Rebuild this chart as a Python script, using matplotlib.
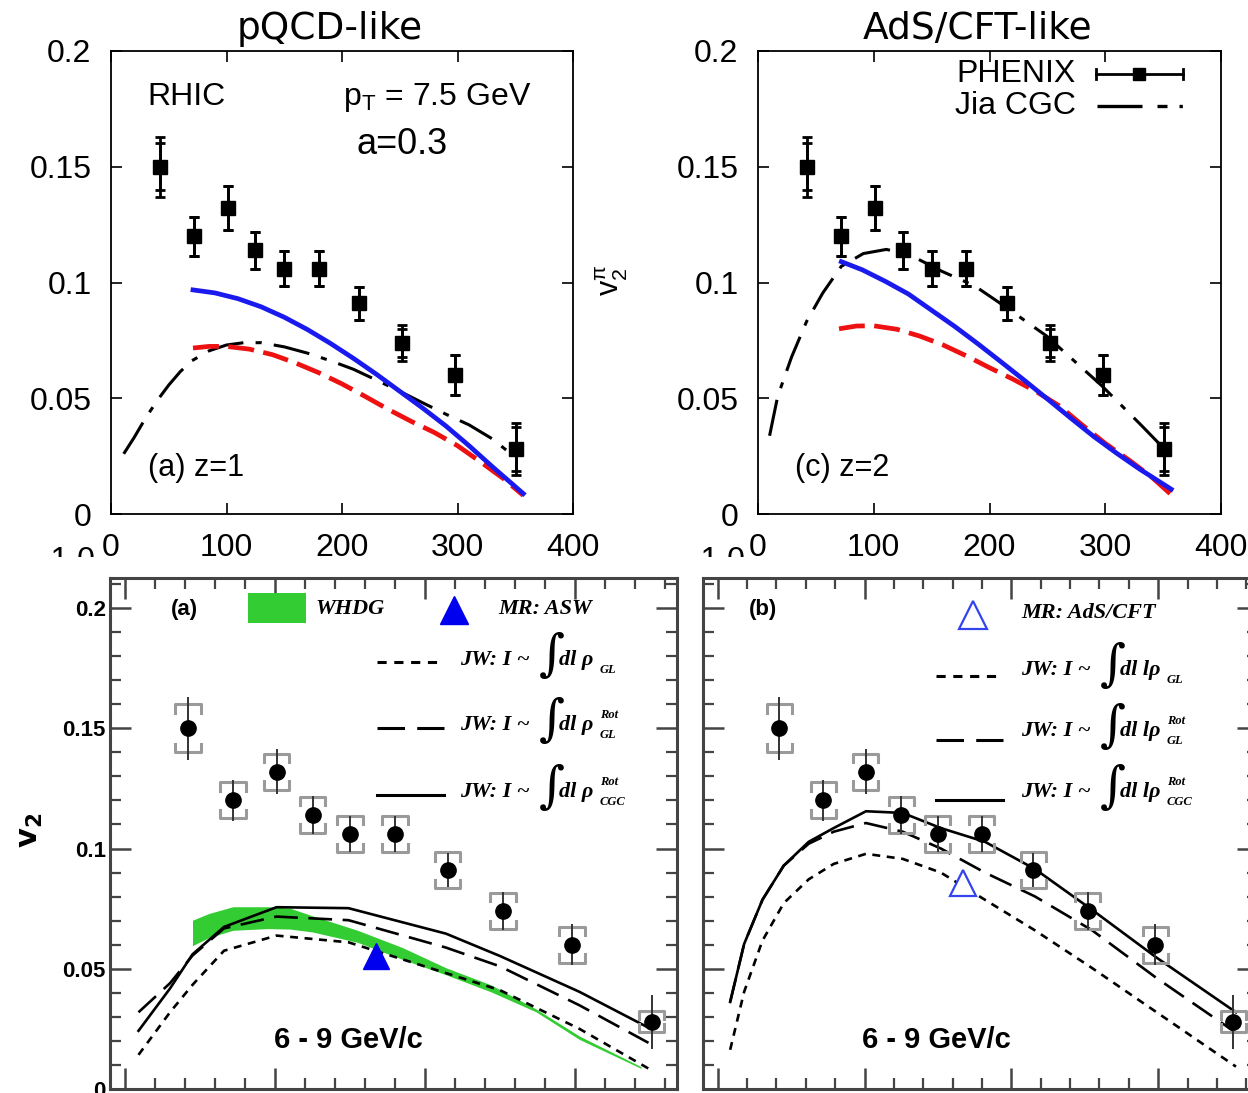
import matplotlib
matplotlib.use("Agg")
import matplotlib.pyplot as plt
from matplotlib.lines import Line2D
from matplotlib.patches import Rectangle
from matplotlib.transforms import Bbox, TransformedBbox
import numpy as np

# PHENIX v2 of pi0 at pT ~ 7.5 GeV vs Npart
npart = [42, 72, 101, 125, 150, 180, 215, 252, 298, 351]
v2 = [0.150, 0.120, 0.132, 0.114, 0.106, 0.106, 0.091, 0.074, 0.060, 0.028]
err_tot = [0.013, 0.0085, 0.0095, 0.008, 0.0075, 0.0075, 0.007, 0.0078, 0.0085, 0.0112]
err_stat = [0.0102, 0.0085, 0.0095, 0.008, 0.0075, 0.0075, 0.007, 0.0060, 0.0085, 0.0095]
err_syst = [0.010, 0.0075, 0.0075, 0.0075, 0.0075, 0.0075, 0.0075, 0.0075, 0.0075, 0.0045]

# (a) z=1, pQCD-like
a_blue_x = [71, 90, 110, 130, 150, 170, 190, 210, 230, 250, 270, 290, 310, 330, 357]
a_blue_y = [0.0968, 0.0955, 0.0930, 0.0895, 0.0850, 0.0797, 0.0737, 0.0672, 0.0603,
            0.0530, 0.0457, 0.0380, 0.0295, 0.0205, 0.0088]
a_red_x = [71, 85, 100, 120, 140, 160, 180, 200, 220, 240, 260, 280, 300, 320, 340, 357]
a_red_y = [0.0717, 0.0724, 0.0724, 0.0712, 0.0688, 0.0652, 0.0610, 0.0562, 0.0508,
           0.0452, 0.0400, 0.0352, 0.0295, 0.0225, 0.0152, 0.0080]
a_cgc_x = [11, 20, 30, 40, 50, 60, 70, 85, 100, 115, 130, 150, 170, 190, 210, 230,
           250, 270, 290, 310, 330, 348]
a_cgc_y = [0.026, 0.033, 0.0415, 0.049, 0.0557, 0.0615, 0.0662, 0.0705, 0.0730, 0.0740,
           0.0740, 0.0722, 0.0695, 0.0662, 0.0625, 0.0578, 0.0530, 0.0480, 0.0431,
           0.0385, 0.0325, 0.0253]

# (c) z=2, AdS/CFT-like
c_blue_x = [72, 90, 110, 130, 150, 170, 190, 210, 230, 250, 270, 290, 310, 330, 357]
c_blue_y = [0.109, 0.1055, 0.1005, 0.0950, 0.0880, 0.0810, 0.0735, 0.0657, 0.0578,
            0.0497, 0.0415, 0.0335, 0.0262, 0.0193, 0.0107]
c_red_x = [70, 85, 100, 120, 140, 160, 180, 200, 220, 240, 260, 280, 300, 320, 340, 356]
c_red_y = [0.0800, 0.0812, 0.0813, 0.0798, 0.0768, 0.0730, 0.0683, 0.0632, 0.0583,
           0.0530, 0.0468, 0.0385, 0.0305, 0.0235, 0.0160, 0.0088]
c_cgc_x = [10, 17, 29, 42, 56, 72, 91, 111, 132, 159, 187, 214, 249, 297, 331, 352]
c_cgc_y = [0.0338, 0.0508, 0.0678, 0.0832, 0.0955, 0.107, 0.1125, 0.1143, 0.1117,
           0.1048, 0.0986, 0.0894, 0.0770, 0.0554, 0.0384, 0.0276]

# bottom (a): WHDG band and JW curves
whdg_x = [45, 56, 72, 95, 110, 125, 155, 185, 214, 244, 274, 303, 344]
whdg_hi = [0.0702, 0.0730, 0.0758, 0.0758, 0.0752, 0.0720, 0.0660, 0.0588, 0.0504, 0.0433, 0.0333, 0.0220, 0.0093]
whdg_lo = [0.0596, 0.0630, 0.0660, 0.0667, 0.0665, 0.0653, 0.0610, 0.0539, 0.0475, 0.0404, 0.0321, 0.0206, 0.0086]
jwa_x = [9, 30, 45, 66, 101, 149, 214, 250, 303, 349]
jwa_cgc = [0.0242, 0.0418, 0.0560, 0.0674, 0.0756, 0.0752, 0.0646, 0.0553, 0.0404, 0.0255]
jwa_glrot = [0.0319, 0.0440, 0.0555, 0.0668, 0.0717, 0.0702, 0.0588, 0.0510, 0.0348, 0.0192]
jwa_gl = [0.0142, 0.0319, 0.0433, 0.0575, 0.0638, 0.0610, 0.0482, 0.0411, 0.0250, 0.0085]
asw_x, asw_y = [167], [0.0554]

# bottom (b): JW curves with l-weighting
jwb_x = [8.5, 18, 30.5, 45, 62, 79, 101, 126, 152, 182, 216, 255, 299, 353]
jwb_cgc = [0.0362, 0.0603, 0.0787, 0.0929, 0.1028, 0.1085, 0.1155, 0.1148, 0.1085, 0.1028, 0.0915, 0.0745, 0.0546, 0.0319]
jwb_glrot = [0.0362, 0.0603, 0.0787, 0.0929, 0.1020, 0.1070, 0.1106, 0.1070, 0.1000, 0.0900, 0.0801, 0.0660, 0.0461, 0.0234]
jwb_gl = [0.0163, 0.0404, 0.0617, 0.0773, 0.0872, 0.0936, 0.0978, 0.0957, 0.0900, 0.0787, 0.0660, 0.0503, 0.0319, 0.0093]
ads_x, ads_y = [167], [0.0858]

W, H = 1248, 1093
fig = plt.figure(figsize=(W / 100, H / 100), dpi=100)
plt.rcParams['font.family'] = ['Liberation Sans', 'DejaVu Sans']


def rect(l, t, r, b):
    return [l / W, 1 - b / H, (r - l) / W, (b - t) / H]


def fx(x):
    return x / W


def fy(y):
    return 1 - y / H


GREEN = '#33cc33'
BLUE = '#0000ee'
CGC_DASH = (12, 4, 2, 4)


def top_panel(box, title, label, blue, red, cgc):
    ax = fig.add_axes(rect(*box))
    ax.set_xlim(0, 400)
    ax.set_ylim(0, 0.2)
    ax.set_xticks([0, 100, 200, 300, 400])
    ax.set_xticklabels(['0', '100', '200', '300', '400'])
    ax.set_yticks([0, 0.05, 0.1, 0.15, 0.2])
    ax.set_yticklabels(['0', '0.05', '0.1', '0.15', '0.2'])
    ax.tick_params(direction='in', length=8, width=1.2, labelsize=23,
                   top=True, right=True, pad=14)
    for s in ax.spines.values():
        s.set_linewidth(1.3)
    ax.plot(cgc[0], cgc[1], color='black', lw=2.2, dashes=CGC_DASH, zorder=3)
    ax.plot(red[0], red[1], color='#ee1111', lw=3.4, dashes=(5.5, 2), zorder=4)
    ax.plot(blue[0], blue[1], color='#1a1aee', lw=3.4, zorder=5)
    ax.errorbar(npart, v2, yerr=err_tot, fmt='none', ecolor='black', elinewidth=2,
                capsize=3.5, capthick=2, zorder=6)
    ax.errorbar(npart, v2, yerr=err_stat, fmt='s', color='black', ms=9.5,
                elinewidth=2, capsize=3.5, capthick=2, zorder=7)
    ax.text(0.08, 0.1, label, transform=ax.transAxes, fontsize=22, va='center')
    fig.text(fx((box[0] + box[2]) / 2 - 12), fy(29), title, ha='center', va='center',
             fontsize=27, family='DejaVu Sans')
    return ax


axa = top_panel((111, 51, 573, 514), 'pQCD-like', '(a) z=1',
                (a_blue_x, a_blue_y), (a_red_x, a_red_y), (a_cgc_x, a_cgc_y))
fig.text(fx(147), fy(97), 'RHIC', fontsize=23, va='center')
fig.text(fx(343), fy(97), r'$\mathregular{p_T}$ = 7.5 GeV', fontsize=23, va='center')
fig.text(fx(357), fy(145), 'a=0.3', fontsize=26, va='center')

axc = top_panel((758, 51, 1221, 514), 'AdS/CFT-like', '(c) z=2',
                (c_blue_x, c_blue_y), (c_red_x, c_red_y), (c_cgc_x, c_cgc_y))

# legend of the AdS/CFT-like panel, text left of the key
fig.text(fx(1076), fy(74), 'PHENIX', ha='right', va='center', fontsize=23)
fig.text(fx(1076), fy(106), 'Jia CGC', ha='right', va='center', fontsize=23)
fig.add_artist(Line2D([fx(1096), fx(1183)], [fy(74), fy(74)], color='black', lw=2))
for xc in (1096, 1183):
    fig.add_artist(Line2D([fx(xc), fx(xc)], [fy(69), fy(79)], color='black', lw=2))
fig.add_artist(Line2D([fx(1139)], [fy(74)], marker='s', color='black', ms=8.5))
fig.add_artist(Line2D([fx(1097), fx(1184)], [fy(106), fy(106)], color='black', lw=2.4,
                      dashes=(13.5, 4.5, 3, 3.6, 1, 10)))

fig.text(fx(612), fy(280), r'$\mathregular{v_2^{\pi}}$', rotation=90,
         ha='center', va='center', fontsize=22)

# clipped leftovers of the lower panels' labels
clip = TransformedBbox(Bbox.from_extents(0, fy(557), 1, 1), fig.transFigure)
for xr in (96, 745):
    t = fig.text(fx(xr), fy(546), '-1.0', ha='right', va='top', fontsize=23)
    t.set_clip_box(clip)
    t.set_clip_on(True)

GRAY = '#444444'


def bottom_panel(box, ylabels):
    ax = fig.add_axes(rect(*box))
    ax.set_xlim(-10, 368)
    ax.set_ylim(0, 0.2125)
    ax.set_xticks([0, 100, 200, 300])
    ax.set_xticks(np.arange(0, 361, 20), minor=True)
    ax.set_yticks([0, 0.05, 0.1, 0.15, 0.2])
    ax.set_yticks(np.arange(0, 0.211, 0.01), minor=True)
    ax.set_xticklabels([])
    if ylabels:
        ax.set_yticklabels(['0', '0.05', '0.1', '0.15', '0.2'], fontweight='bold')
    else:
        ax.set_yticklabels([])
    ax.tick_params(which='major', direction='in', length=15, width=1.8, color=GRAY,
                   top=True, right=True, labelsize=16, pad=3)
    ax.tick_params(which='minor', direction='in', length=8, width=1.6, color=GRAY,
                   top=True, right=True)
    for s in ax.spines.values():
        s.set_linewidth(2.2)
        s.set_color(GRAY)
    # systematic brackets and stat bars
    w, h = 8.5, 0.0035
    for x, y, s in zip(npart, v2, err_syst):
        ax.plot([x - w, x - w, x + w, x + w], [y + s - h, y + s, y + s, y + s - h],
                color='#9a9a9a', lw=2.2, zorder=6)
        ax.plot([x - w, x - w, x + w, x + w], [y - s + h, y - s, y - s, y - s + h],
                color='#9a9a9a', lw=2.2, zorder=6)
    ax.errorbar(npart, v2, yerr=err_tot, fmt='o', color='black', ms=11,
                elinewidth=1.4, ecolor='#333333', capsize=0, zorder=7)
    ax.text(0.42, 0.095, '6 - 9 GeV/c', transform=ax.transAxes, fontsize=21,
            fontweight='bold', ha='center', va='center')
    return ax


def jw_curves(ax, x, gl, glrot, cgc):
    ax.plot(x, gl, color='black', lw=1.9, dashes=(3, 2.5), zorder=4)
    ax.plot(x, glrot, color='black', lw=1.9, dashes=(9, 4), zorder=4)
    ax.plot(x, cgc, color='black', lw=1.9, zorder=4)


SERIF = dict(family='Liberation Serif', style='italic', fontweight='bold', fontsize=16)


def jw_legend(xs0, xs1, xt, ys, extra_l):
    styles = [dict(dashes=(3, 2.5)), dict(dashes=(9, 4)), dict()]
    subs = ['GL', 'GL', 'CGC']
    sups = ['', 'Rot', 'Rot']
    for (yl, yt), st, sub, sup in zip(ys, styles, subs, sups):
        fig.add_artist(Line2D([fx(xs0), fx(xs1)], [fy(yl), fy(yl)], color='black',
                              lw=2.2, **st))
        fig.text(fx(xt), fy(yt), 'JW: I ~', va='center', **SERIF)
        fig.text(fx(xt + 92), fy(yt - 4), '\u222b', va='center', ha='center',
                 family='DejaVu Serif', fontsize=36, fontweight='normal')
        rho = 'dl l\u03c1' if extra_l else 'dl \u03c1'
        fig.text(fx(xt + 99), fy(yt), rho, va='center', **SERIF)
        xsub = xt + (146 if extra_l else 140)
        fig.text(fx(xsub), fy(yt + 10), sub, va='center', family='Liberation Serif',
                 style='italic', fontweight='bold', fontsize=9)
        if sup:
            fig.text(fx(xsub), fy(yt - 10), sup, va='center', family='Liberation Serif',
                     style='italic', fontweight='bold', fontsize=9)


# bottom left (a)
axb1 = bottom_panel((110, 578, 677, 1089), True)
axb1.fill_between(whdg_x, whdg_lo, whdg_hi, color=GREEN, lw=0, zorder=2)
jw_curves(axb1, jwa_x, jwa_gl, jwa_glrot, jwa_cgc)
axb1.plot(asw_x, asw_y, '^', color=BLUE, ms=19, zorder=8)
fig.text(fx(30), fy(830), r'$\mathbf{v_2}$', rotation=90, ha='center', va='center',
         fontsize=22, fontweight='bold')
fig.text(fx(184), fy(609), '(a)', ha='center', va='center', fontsize=16, fontweight='bold')
fig.add_artist(Rectangle((fx(248), fy(623)), (306 - 248) / W, (623 - 593) / H,
                         color=GREEN, lw=0))
fig.text(fx(315), fy(609), 'WHDG', va='center', **SERIF)
fig.add_artist(Line2D([fx(454)], [fy(610)], marker='^', color=BLUE, ms=20))
fig.text(fx(498), fy(609), 'MR: ASW', va='center', **SERIF)
jw_legend(377, 444, 460, [(662, 660), (728, 725), (795, 792)], False)

# bottom right (b)
axb2 = bottom_panel((703, 578, 1258, 1089), False)
jw_curves(axb2, jwb_x, jwb_gl, jwb_glrot, jwb_cgc)
axb2.plot(ads_x, ads_y, '^', mfc='white', mec='#3344ee', mew=1.6, ms=19, zorder=8)
fig.text(fx(763), fy(610), '(b)', ha='center', va='center', fontsize=16, fontweight='bold')
fig.add_artist(Line2D([fx(973)], [fy(615)], marker='^', mfc='white', mec='#3344ee',
                      mew=1.6, ms=20))
fig.text(fx(1021), fy(613), 'MR: AdS/CFT', va='center', **SERIF)
jw_legend(936, 1003, 1021, [(676, 670), (740, 731), (800, 792)], True)

fig.savefig('out.png', dpi=100)
